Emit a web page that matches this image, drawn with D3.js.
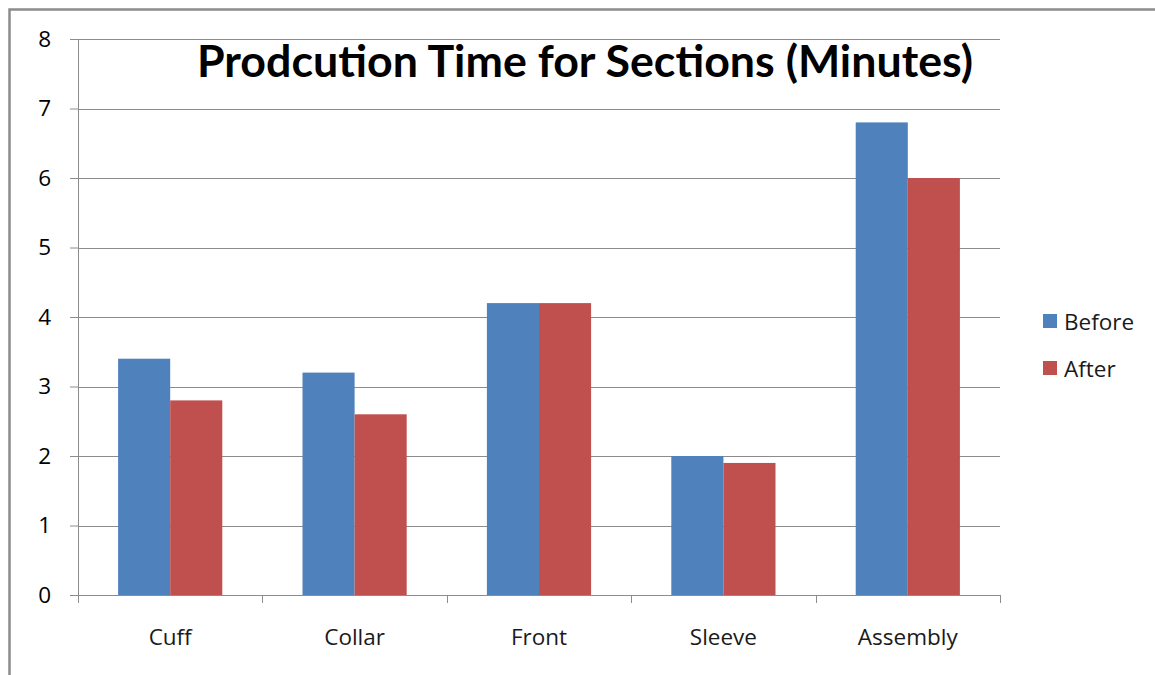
<!DOCTYPE html>
<html>
<head>
<meta charset="utf-8">
<script src="https://cdn.jsdelivr.net/npm/d3@7"></script>
<style>
  html, body { margin: 0; padding: 0; background: #fff; }
  svg { display: block; }
  text { font-family: "Open Sans", Lato, sans-serif; fill: #000; }
</style>
</head>
<body>
<svg id="chart" width="1155" height="675"></svg>
<script>
// Production time per garment section, in minutes
const categories = ["Cuff", "Collar", "Front", "Sleeve", "Assembly"];
const seriesNames = ["Before", "After"];
const beforeValues = [3.4, 3.2, 4.2, 2.0, 6.8];
const afterValues = [2.8, 2.6, 4.2, 1.9, 6.0];
const yTicks = [0, 1, 2, 3, 4, 5, 6, 7, 8];
const seriesColors = ["#4F81BD", "#C0504D"];
const titleText = "Prodcution Time for Sections (Minutes)";

const rows = categories.map((c, i) => ({ category: c, values: [beforeValues[i], afterValues[i]] }));

const svg = d3.select("#chart");
const margin = { left: 78, right: 155, top: 39, bottom: 80 };
const width = 1155, height = 675;
const plotW = width - margin.left - margin.right;
const plotH = height - margin.top - margin.bottom;
const labelSize = "22.5px";
const textColor = "#1a1a1a";

// Outer frame (top and left edges)
svg.append("path")
  .attr("d", `M9.5,${height} L9.5,9.5 L${width},9.5`)
  .attr("fill", "none")
  .attr("stroke", "#8c8c8c")
  .attr("stroke-width", 2.5);

const g = svg.append("g").attr("transform", `translate(${margin.left},${margin.top})`);

const x = d3.scaleBand().domain(categories).range([0, plotW]).paddingInner(0).paddingOuter(0);
const x1 = d3.scaleBand().domain(seriesNames).range([x.bandwidth() * 0.2175, x.bandwidth() * 0.7825]);
const y = d3.scaleLinear().domain([0, 8]).range([plotH, 0]);

// Horizontal gridlines
g.append("g")
  .selectAll("line")
  .data(yTicks.filter(t => t > 0))
  .join("line")
  .attr("x1", 0).attr("x2", plotW)
  .attr("y1", d => Math.round(y(d)) + 0.5).attr("y2", d => Math.round(y(d)) + 0.5)
  .attr("stroke", "#8c8c8c").attr("stroke-width", 1);

// Bars
const groups = g.append("g").selectAll("g")
  .data(rows)
  .join("g")
  .attr("transform", d => `translate(${x(d.category)},0)`);

groups.selectAll("rect")
  .data(d => d.values.map((v, i) => ({ series: seriesNames[i], value: v, i })))
  .join("rect")
  .attr("x", d => x1(d.series))
  .attr("width", x1.bandwidth())
  .attr("y", d => y(d.value))
  .attr("height", d => plotH - y(d.value))
  .attr("fill", d => seriesColors[d.i]);

// Y axis
const yAxis = g.append("g")
  .call(d3.axisLeft(y).tickValues(yTicks).tickSize(8).tickPadding(19).tickFormat(d3.format("d")));
yAxis.select(".domain").attr("stroke", "#8c8c8c").attr("d", `M0.5,0V${plotH}`);
yAxis.selectAll(".tick line").attr("stroke", "#8c8c8c");
yAxis.selectAll(".tick text").style("font-size", labelSize).attr("fill", textColor);

// X axis with tick marks at category boundaries
const xAxis = g.append("g").attr("transform", `translate(0,${plotH})`);
xAxis.append("line")
  .attr("x1", 0).attr("x2", plotW).attr("y1", 0.5).attr("y2", 0.5)
  .attr("stroke", "#8c8c8c");
xAxis.selectAll(".bound")
  .data(d3.range(categories.length + 1))
  .join("line")
  .attr("class", "bound")
  .attr("x1", i => Math.round(i * x.step()) + 0.5)
  .attr("x2", i => Math.round(i * x.step()) + 0.5)
  .attr("y1", 0).attr("y2", 8)
  .attr("stroke", "#8c8c8c");
xAxis.selectAll(".cat")
  .data(categories)
  .join("text")
  .attr("class", "cat")
  .attr("x", d => x(d) + x.bandwidth() / 2)
  .attr("y", 50)
  .attr("text-anchor", "middle")
  .style("font-size", labelSize)
  .style("fill", textColor)
  .text(d => d);

// Title
svg.append("rect").attr("x", 190).attr("y", 40).attr("width", 790).attr("height", 48).attr("fill", "#fff");
svg.append("text")
  .attr("x", 197).attr("y", 77)
  .attr("textLength", 776)
  .attr("lengthAdjust", "spacingAndGlyphs")
  .style("font-family", "Lato, 'Open Sans', sans-serif")
  .style("font-size", "44px")
  .style("font-weight", "bold")
  .text(titleText);

// Legend
const legend = svg.append("g").attr("transform", "translate(1043,314)");
const items = legend.selectAll("g")
  .data(seriesNames)
  .join("g")
  .attr("transform", (d, i) => `translate(0,${i * 47})`);
items.append("rect").attr("width", 14).attr("height", 14).attr("fill", (d, i) => seriesColors[i]);
items.append("text").attr("x", 21).attr("y", 15.5).style("font-size", labelSize).style("fill", textColor).text(d => d);
</script>
</body>
</html>
